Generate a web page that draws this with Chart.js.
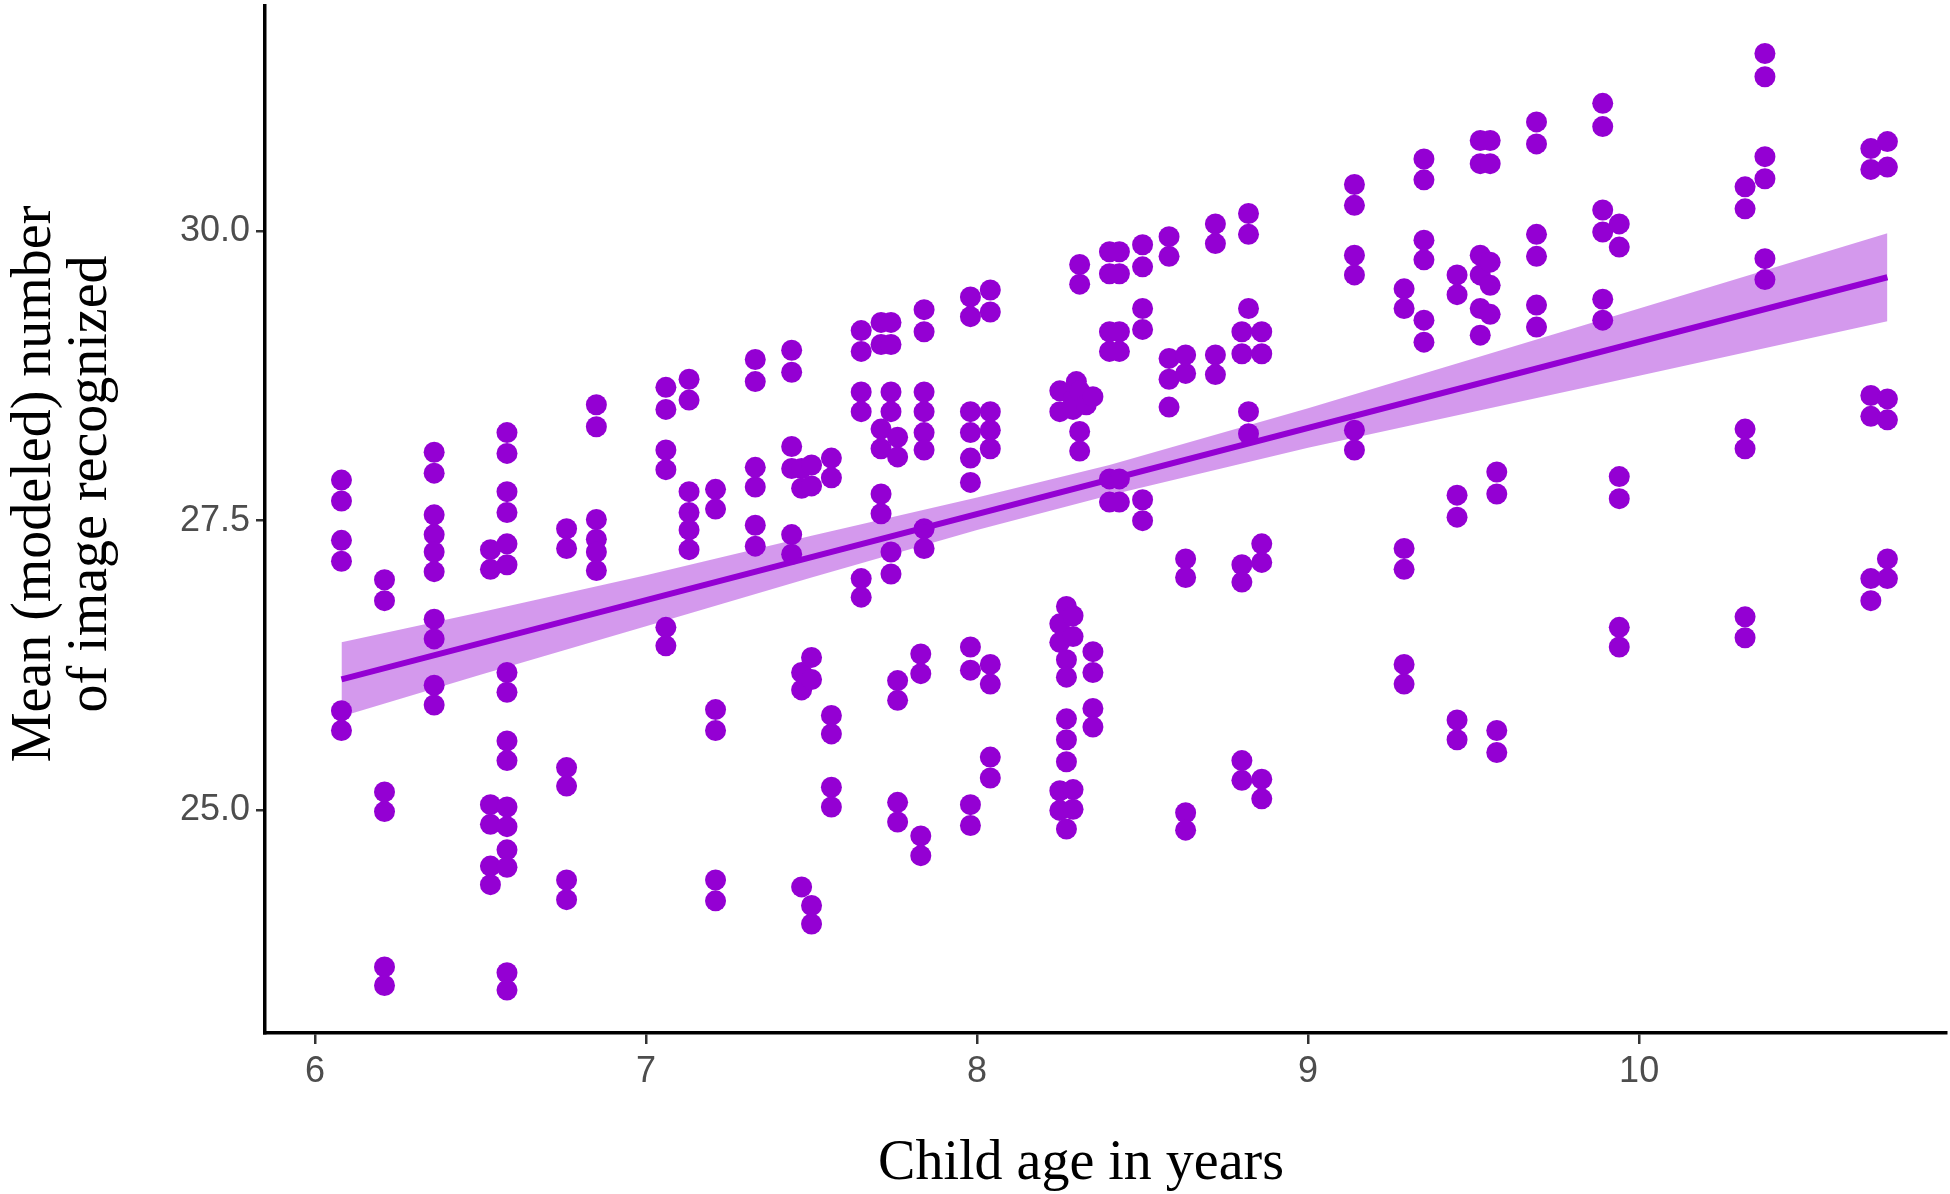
<!DOCTYPE html>
<html>
<head>
<meta charset="utf-8">
<script src="https://cdn.jsdelivr.net/npm/chart.js@4.4.1/dist/chart.umd.min.js"></script>
<style>
  html, body { margin: 0; padding: 0; background: #fff; }
  #wrap { width: 1950px; height: 1194px; }
</style>
</head>
<body>
<div id="wrap"><canvas id="age-chart" width="1950" height="1194"></canvas></div>
<script>
const xTicks = [6, 7, 8, 9, 10];
const yTicks = [25, 27.5, 30];
const xTitle = 'Child age in years';
const yTitle = ['Mean (modeled) number', 'of image recognized'];

// child age (years) and the recognized scores plotted at that age
const childAge = [6.08, 6.21, 6.36, 6.53, 6.58, 6.76, 6.85, 7.06, 7.13, 7.21,
  7.33, 7.44, 7.47, 7.50, 7.56, 7.65, 7.71, 7.74, 7.76, 7.83,
  7.84, 7.98, 8.04, 8.25, 8.27, 8.29, 8.30, 8.31, 8.33, 8.35,
  8.40, 8.43, 8.50, 8.58, 8.63, 8.72, 8.80, 8.82, 8.86, 9.14,
  9.29, 9.35, 9.45, 9.52, 9.55, 9.57, 9.69, 9.89, 9.94, 10.32,
  10.38, 10.70, 10.75];
const recognized = [
  [27.85, 27.67, 27.33, 27.15, 25.86, 25.69],
  [26.99, 26.81, 25.16, 24.99, 23.65, 23.49],
  [28.09, 27.91, 27.55, 27.38, 27.23, 27.06, 26.65, 26.48, 26.08, 25.91],
  [27.25, 27.08, 25.05, 24.88, 24.52, 24.36],
  [28.26, 28.08, 27.75, 27.57, 27.30, 27.12, 26.19, 26.02, 25.60, 25.43, 25.03, 24.86, 24.66, 24.51, 23.60, 23.45],
  [27.43, 27.26, 25.37, 25.21, 24.40, 24.23],
  [28.50, 28.31, 27.51, 27.34, 27.23, 27.07],
  [28.65, 28.46, 28.11, 27.94, 26.58, 26.42],
  [28.72, 28.54, 27.75, 27.57, 27.42, 27.25],
  [27.77, 27.60, 25.87, 25.69, 24.40, 24.22],
  [28.89, 28.70, 27.96, 27.79, 27.46, 27.28],
  [28.97, 28.78, 28.14, 27.95, 27.38, 27.21],
  [27.95, 27.78, 26.19, 26.04, 24.34],
  [27.98, 27.80, 26.32, 26.13, 24.18, 24.02],
  [28.04, 27.87, 25.82, 25.66, 25.20, 25.03],
  [29.14, 28.96, 28.61, 28.44, 27.00, 26.84],
  [29.21, 29.02, 28.29, 28.12, 27.73, 27.56],
  [29.21, 29.02, 28.61, 28.44, 27.23, 27.04],
  [28.22, 28.05, 26.12, 25.95, 25.07, 24.90],
  [26.35, 26.18, 24.78, 24.61],
  [29.32, 29.13, 28.61, 28.44, 28.26, 28.11, 27.43, 27.26],
  [29.43, 29.26, 28.44, 28.26, 28.04, 27.83, 26.41, 26.21, 25.05, 24.87],
  [29.49, 29.30, 28.44, 28.28, 28.12, 26.26, 26.09, 25.46, 25.28],
  [28.62, 28.44, 26.61, 26.45, 25.17, 25.00],
  [26.76, 26.30, 26.15, 25.79, 25.61, 25.42, 24.84],
  [28.55, 28.46, 26.68, 26.50, 25.18, 25.01],
  [28.70],
  [29.71, 29.54, 28.62, 28.27, 28.10],
  [28.50],
  [28.57, 26.37, 26.19, 25.88, 25.72],
  [29.82, 29.63, 29.13, 28.96, 27.86, 27.66],
  [29.82, 29.63, 29.13, 28.96, 27.86, 27.66],
  [29.88, 29.69, 29.33, 29.15, 27.68, 27.50],
  [29.95, 29.78, 28.90, 28.72, 28.48],
  [28.93, 28.77, 27.17, 27.01, 24.98, 24.83],
  [30.06, 29.89, 28.93, 28.76],
  [29.13, 28.94, 27.12, 26.97, 25.43, 25.26],
  [30.15, 29.97, 29.33, 28.44, 28.25],
  [29.13, 28.94, 27.30, 27.14, 25.27, 25.10],
  [30.40, 30.22, 29.79, 29.62, 28.28, 28.11],
  [29.50, 29.33, 27.26, 27.08, 26.26, 26.09],
  [30.62, 30.44, 29.92, 29.75, 29.23, 29.04],
  [29.62, 29.45, 27.72, 27.53, 25.78, 25.61],
  [30.78, 30.58, 29.79, 29.62, 29.33, 29.10],
  [30.78, 30.58, 29.73, 29.53, 29.28],
  [27.92, 27.73, 25.69, 25.50],
  [30.94, 30.75, 29.97, 29.78, 29.36, 29.17],
  [31.10, 30.90, 30.18, 29.99, 29.41, 29.23],
  [30.06, 29.86, 27.88, 27.69, 26.58, 26.41],
  [30.38, 30.19, 28.29, 28.12, 26.67, 26.49],
  [31.53, 31.33, 30.64, 30.45, 29.76, 29.58],
  [30.71, 30.53, 28.58, 28.40, 27.00, 26.81],
  [30.77, 30.55, 28.55, 28.37, 27.17, 27.00]
];

// fitted line and its confidence band
const fitX = [6.08, 10.75];
const fitY = [26.13, 29.60];
const bandX = [6.08, 6.5, 7.0, 7.5, 8.0, 8.4, 9.0, 9.5, 10.0, 10.75];
const bandUpper = [26.45, 26.71, 27.03, 27.37, 27.70, 27.98, 28.47, 28.90, 29.33, 29.98];
const bandLower = [25.81, 26.17, 26.59, 27.01, 27.42, 27.72, 28.13, 28.44, 28.75, 29.22];

const violet = '#9400D3';
const tickFont = { family: '"Liberation Sans", Arial, sans-serif', size: 36 };

const points = [];
childAge.forEach((age, i) => {
  recognized[i].forEach(v => points.push({ x: age, y: v }));
});
const toXY = (xs, ys) => xs.map((x, i) => ({ x: x, y: ys[i] }));

const axisTitles = {
  id: 'axisTitles',
  afterDraw(chart) {
    const c = chart.ctx;
    c.save();
    c.fillStyle = '#000';
    c.font = '56px "Liberation Serif", "Times New Roman", serif';
    c.textAlign = 'center';
    c.textBaseline = 'alphabetic';
    c.fillText(xTitle, 1081, 1179);
    c.translate(0, 484);
    c.rotate(-Math.PI / 2);
    c.fillText(yTitle[0], 0, 50);
    c.fillText(yTitle[1], 0, 106);
    c.restore();
  }
};

const ctx = document.getElementById('age-chart');
const ageChart = new Chart(ctx, {
  type: 'scatter',
  data: {
    datasets: [{
      type: 'line',
      data: toXY(bandX, bandLower),
      borderWidth: 0,
      pointRadius: 0,
      fill: false,
      order: 3
    }, {
      type: 'line',
      data: toXY(bandX, bandUpper),
      borderWidth: 0,
      pointRadius: 0,
      fill: '-1',
      backgroundColor: 'rgba(148, 0, 211, 0.4)',
      order: 3
    }, {
      type: 'line',
      data: toXY(fitX, fitY),
      borderColor: violet,
      borderWidth: 6,
      pointRadius: 0,
      fill: false,
      order: 1
    }, {
      data: points,
      backgroundColor: violet,
      borderWidth: 0,
      pointRadius: 10.5,
      order: 2
    }]
  },
  options: {
    responsive: false,
    animation: false,
    events: [],
    layout: { autoPadding: false, padding: { left: 0, right: 4, top: 6, bottom: 0 } },
    plugins: {
      legend: { display: false },
      tooltip: { enabled: false }
    },
    scales: {
      x: {
        type: 'linear',
        min: 5.849,
        max: 10.927,
        afterBuildTicks: s => { s.ticks = xTicks.map(v => ({ value: v })); },
        afterFit: s => { s.height = 161; s.paddingLeft = 0; s.paddingRight = 0; },
        grid: { drawOnChartArea: false, drawTicks: true, tickLength: 11, color: '#333', lineWidth: 2.5 },
        border: { display: true, color: '#000', width: 3.5 },
        ticks: { color: '#4d4d4d', font: tickFont, padding: 6, maxRotation: 0, callback: v => String(v) }
      },
      y: {
        type: 'linear',
        min: 23.08,
        max: 31.94,
        afterBuildTicks: s => { s.ticks = yTicks.map(v => ({ value: v })); },
        afterFit: s => { s.width = 265; s.paddingTop = 0; s.paddingBottom = 0; },
        grid: { drawOnChartArea: false, drawTicks: true, tickLength: 9, color: '#333', lineWidth: 2.5 },
        border: { display: true, color: '#000', width: 3.5 },
        ticks: { color: '#4d4d4d', font: tickFont, padding: 6, callback: v => v.toFixed(1) }
      }
    }
  },
  plugins: [axisTitles]
});
</script>
</body>
</html>
